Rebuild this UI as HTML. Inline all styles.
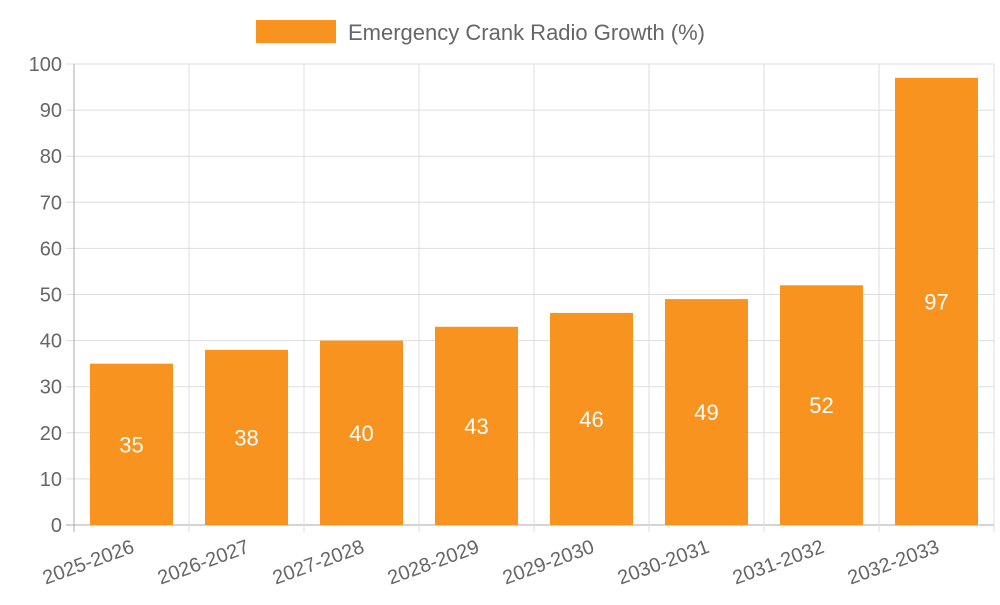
<!DOCTYPE html>
<html><head><meta charset="utf-8"><style>
body{margin:0;background:#fff;}
svg text{font-family:"Liberation Sans",sans-serif;}
</style></head><body>
<svg id="c" width="1000" height="600"></svg>
<script>
const categories=["2025-2026","2026-2027","2027-2028","2028-2029","2029-2030","2030-2031","2031-2032","2032-2033"];
const values=[35,38,40,43,46,49,52,97];
const yTicks=[0,10,20,30,40,50,60,70,80,90,100];
const NS="http://www.w3.org/2000/svg";
const svg=document.getElementById('c');
const L=74,R=994,T=64,B=525;
const y=v=>B-(v/100)*(B-T);
const bw=(R-L)/categories.length;
const x=i=>L+i*bw;
function mk(t,a,p){const e=document.createElementNS(NS,t);for(const k in a)e.setAttribute(k,a[k]);(p||svg).appendChild(e);return e;}
// legend
let lr=mk('rect',{x:256,y:20,width:80,height:23,fill:'#f7931e'});


let lt=mk('text',{x:348,y:40,'font-size':22,fill:'#666'});lt.textContent='Emergency Crank Radio Growth (%)';


// grid
yTicks.forEach(v=>{
  let g=mk('line',{x1:L-8,x2:R,y1:y(v),y2:y(v),stroke:v===0?'#aaa':'#ddd','stroke-width':1});
  
  
  let t=mk('text',{x:L-12,y:y(v)+7,'font-size':20,fill:'#666','text-anchor':'end'});t.textContent=v;
  
  
});
for(let i=0;i<=categories.length;i++){
  let g=mk('line',{x1:x(i),x2:x(i),y1:T,y2:B+7,stroke:i===0?'#aaa':'#ddd','stroke-width':1});
  
  
}
categories.forEach((c,i)=>{
  const v=values[i];
  let b=mk('rect',{x:x(i)+16,y:y(v),width:bw-32,height:B-y(v),fill:'#f7931e'});
  
  
  let t=mk('text',{x:x(i)+bw/2,y:(y(v)+B)/2+8,'font-size':22,fill:'#fff','text-anchor':'middle'});t.textContent=v;
  
  
  const cx=x(i)+bw/2+4,cy=552;
  let xl=mk('text',{x:cx,y:cy,'font-size':20,fill:'#666','text-anchor':'end',transform:`rotate(-20 ${cx} ${cy})`});xl.textContent=c;
  
  
});
</script>
</body></html>
